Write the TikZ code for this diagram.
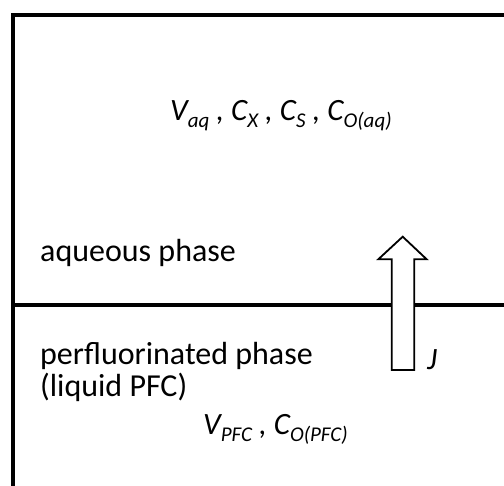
\documentclass[tikz,border=0pt]{standalone}
\usepackage{fontspec}
\setmainfont{Carlito}
\newcommand\mysub[1]{\raisebox{-0.2em}{\fontsize{21}{21}\selectfont #1}}
\begin{document}
\begin{tikzpicture}[x=1pt,y=-1pt,
  lbl/.style={inner sep=0pt,anchor=base west,font=\fontsize{32}{38}\selectfont},
  var/.style={inner sep=0pt,anchor=base west,font=\fontsize{31}{36}\selectfont\itshape},
  wall/.style={line width=4pt,line cap=rect}]
\useasboundingbox (0,0) rectangle (504,486);
% container walls
\coordinate (bl) at (13,490);
\coordinate (tl) at (13,14.7);
\coordinate (tr) at (508,14.7);
\draw[wall] (bl) -- (tl) -- (tr);
% interface
\coordinate (il) at (13,305);
\coordinate (ir) at (508,305);
\draw[line width=3.6pt] (il) -- (ir);
% flux arrow
\draw[line width=1.8pt,fill=white,line join=miter]
  (391.7,370) -- (391.7,259.3) -- (378.3,259.3) -- (402.7,236.7)
  -- (426.7,259.3) -- (414.3,259.3) -- (414.3,370) -- cycle;
% texts
\node[var] (aqvars) at (170,121) {V\mysub{aq} , C\mysub{X} , C\mysub{S} , C\mysub{O(aq)}};
\node[lbl] (aq) at (40,262) {aqueous phase};
\node[lbl] (pfc1) at (40,365) {perfluorinated phase};
\node[lbl] (pfc2) at (40,397) {(liquid PFC)};
\node[var] (pfcvars) at (203,435) {V\mysub{PFC} , C\mysub{O(PFC)}};
\node[var] (J) at (427,370) {J};
\end{tikzpicture}
\end{document}
